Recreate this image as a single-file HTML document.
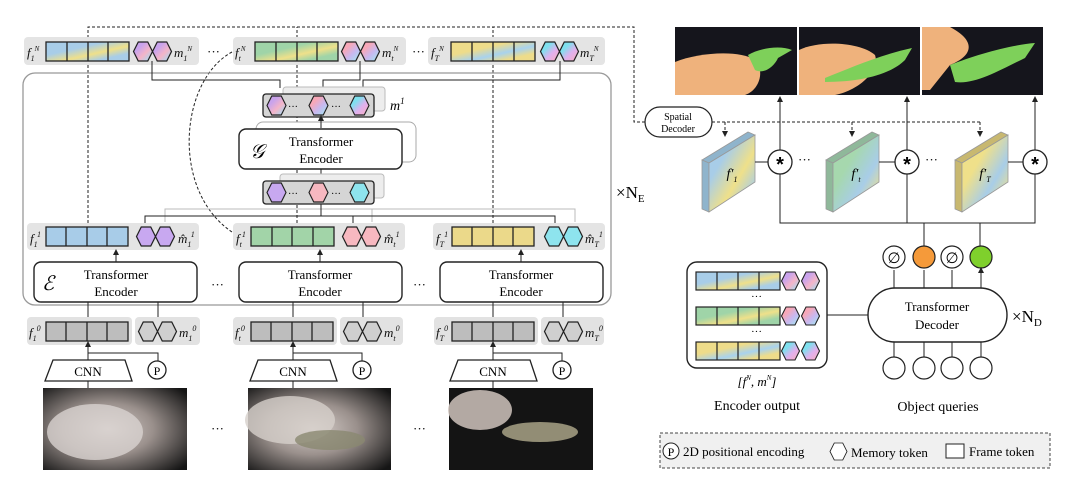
<!DOCTYPE html>
<html><head><meta charset="utf-8"><style>
body{margin:0;background:#fff}
svg{display:block;font-family:"Liberation Serif",serif}
</style></head><body>
<svg width="1080" height="478" viewBox="0 0 1080 478" xmlns="http://www.w3.org/2000/svg">
<defs>
<linearGradient id="gb" x1="0" y1="0" x2="1" y2="1"><stop offset="0.35" stop-color="#a8cde8"/><stop offset="0.6" stop-color="#efe08a"/><stop offset="0.8" stop-color="#a8cde8"/></linearGradient>
<linearGradient id="gg" x1="0" y1="0" x2="1" y2="1"><stop offset="0.35" stop-color="#9fd4a8"/><stop offset="0.6" stop-color="#efe08a"/><stop offset="0.8" stop-color="#9fd4a8"/></linearGradient>
<linearGradient id="gy" x1="0" y1="0" x2="1" y2="1"><stop offset="0.35" stop-color="#eedc8a"/><stop offset="0.6" stop-color="#a8d2ee"/><stop offset="0.8" stop-color="#eedc8a"/></linearGradient>
<linearGradient id="hp" x1="0" y1="0" x2="1" y2="1"><stop offset="0.3" stop-color="#c9a3ec"/><stop offset="0.6" stop-color="#f4b5c8"/><stop offset="0.9" stop-color="#a8d8f0"/></linearGradient>
<linearGradient id="hk" x1="0" y1="0" x2="1" y2="1"><stop offset="0.3" stop-color="#f7a8b8"/><stop offset="0.6" stop-color="#c8b8f0"/><stop offset="0.9" stop-color="#a8e0f0"/></linearGradient>
<linearGradient id="hc" x1="0" y1="0" x2="1" y2="1"><stop offset="0.3" stop-color="#7fe0ee"/><stop offset="0.6" stop-color="#e0b0ee"/><stop offset="0.9" stop-color="#f4b0c8"/></linearGradient>
<linearGradient id="pb" x1="0" y1="0" x2="1" y2="1"><stop offset="0.3" stop-color="#a8cde8"/><stop offset="0.6" stop-color="#efe08a"/><stop offset="0.85" stop-color="#a8cde8"/></linearGradient>
<linearGradient id="pg" x1="0" y1="0" x2="1" y2="1"><stop offset="0.35" stop-color="#a6d8ae"/><stop offset="0.65" stop-color="#a8cde8"/><stop offset="0.9" stop-color="#efe08a"/></linearGradient>
<linearGradient id="py" x1="0" y1="0" x2="1" y2="1"><stop offset="0.35" stop-color="#efe08a"/><stop offset="0.65" stop-color="#a8cde8"/><stop offset="0.9" stop-color="#efe08a"/></linearGradient>
<radialGradient id="ph" cx="0.45" cy="0.5" r="0.7"><stop offset="0" stop-color="#d8d0cc"/><stop offset="0.45" stop-color="#9a908c"/><stop offset="1" stop-color="#151515"/></radialGradient>
<marker id="ar" markerWidth="6" markerHeight="6" refX="3" refY="3" orient="auto"><path d="M0,0L6,3L0,6z" fill="#222"/></marker>
<symbol id="hx" viewBox="0 0 20 20" overflow="visible"><polygon points="0,10 5,0 15,0 20,10 15,20 5,20"/></symbol>
</defs>

<g fill="none" stroke="#222" stroke-dasharray="3,2" stroke-width="1">
<path d="M88,228 V27 H634 V122 H645"/>
<path d="M297,228 V27"/>
<path d="M493,228 V27"/>
<path d="M232,52 C180,80 170,190 232,232"/>
<path d="M712,122 H980"/>
</g>
<g stroke="#222" stroke-dasharray="3,2" marker-end="url(#ar)">
<path d="M725,122 V134"/><path d="M852,122 V134"/><path d="M980,122 V134"/>
</g>

<g fill="#e4e4e4">
<rect x="24" y="37" width="175" height="28" rx="4"/>
<rect x="233" y="37" width="173" height="28" rx="4"/>
<rect x="428" y="37" width="177" height="28" rx="4"/>
</g>
<g stroke="#222" stroke-width="1.3">
<rect x="46" y="42" width="83" height="19" fill="url(#gb)"/>
<rect x="255" y="42" width="83" height="19" fill="url(#gg)"/>
<rect x="451" y="42" width="84" height="19" fill="url(#gy)"/>
<path d="M67,42V61M88,42V61M108,42V61M276,42V61M297,42V61M317,42V61M472,42V61M493,42V61M514,42V61"/>
<use href="#hx" x="133" y="42" width="20" height="19" fill="url(#hp)"/><use href="#hx" x="152" y="42" width="20" height="19" fill="url(#hp)"/>
<use href="#hx" x="341" y="42" width="20" height="19" fill="url(#hk)"/><use href="#hx" x="360" y="42" width="20" height="19" fill="url(#hk)"/>
<use href="#hx" x="540" y="42" width="20" height="19" fill="url(#hc)"/><use href="#hx" x="559" y="42" width="20" height="19" fill="url(#hc)"/>
</g>
<g font-size="13" font-style="italic" fill="#111">
<text x="27" y="57">f<tspan font-size="8" dy="4">1</tspan><tspan font-size="7" dy="-10">N</tspan></text>
<text x="174" y="57">m<tspan font-size="8" dy="4">1</tspan><tspan font-size="7" dy="-10">N</tspan></text>
<text x="235" y="57">f<tspan font-size="8" dy="4">t</tspan><tspan font-size="7" dy="-10">N</tspan></text>
<text x="382" y="57">m<tspan font-size="8" dy="4">t</tspan><tspan font-size="7" dy="-10">N</tspan></text>
<text x="431" y="57">f<tspan font-size="8" dy="4">T</tspan><tspan font-size="7" dy="-10">N</tspan></text>
<text x="580" y="57">m<tspan font-size="8" dy="4">T</tspan><tspan font-size="7" dy="-10">N</tspan></text>
</g>
<text x="207" y="56" font-size="13">···</text><text x="412" y="56" font-size="13">···</text>

<rect x="23" y="73" width="588" height="232" rx="12" fill="none" stroke="#999" stroke-width="1.3"/>
<text x="616" y="198" font-size="17" font-family="Liberation Serif">×N<tspan font-size="11" dy="4">E</tspan></text>

<g fill="none" stroke="#222" stroke-width="1">
<path d="M152,61 V80 H280 V88"/>
<path d="M360,61 V80 H323 V88"/>
<path d="M560,61 V80 H363 V88"/>
</g>
<rect x="283" y="87" width="102" height="24" rx="3" fill="#ededed" stroke="#bbb"/>
<rect x="263" y="94" width="111" height="23" rx="3" fill="#d5d5d5" stroke="#222" stroke-width="1.3"/>
<g stroke="#222" stroke-width="1.2">
<use href="#hx" x="267" y="96" width="19" height="19" fill="url(#hp)"/>
<use href="#hx" x="309" y="96" width="19" height="19" fill="url(#hk)"/>
<use href="#hx" x="350" y="96" width="19" height="19" fill="url(#hc)"/>
</g>
<text x="288" y="110" font-size="10">···</text><text x="331" y="110" font-size="10">···</text>
<text x="390" y="110" font-size="14" font-style="italic">m<tspan font-size="9" dy="-6">1</tspan></text>
<rect x="256" y="122" width="160" height="40" rx="7" fill="#fff" stroke="#aaa"/>
<line x1="321" y1="128" x2="321" y2="118" stroke="#222" marker-end="url(#ar)"/>
<rect x="239" y="129" width="163" height="40" rx="7" fill="#fff" stroke="#222" stroke-width="1.4"/>
<text x="250" y="158" font-size="20" font-style="italic">𝒢</text>
<text x="321" y="146" font-size="13" text-anchor="middle">Transformer</text>
<text x="321" y="163" font-size="13" text-anchor="middle">Encoder</text>
<line x1="321" y1="169" x2="321" y2="181" stroke="#222"/>
<rect x="280" y="174" width="104" height="24" rx="3" fill="#ededed" stroke="#bbb"/>
<rect x="263" y="181" width="111" height="23" rx="3" fill="#d5d5d5" stroke="#222" stroke-width="1.3"/>
<g stroke="#222" stroke-width="1.2">
<use href="#hx" x="267" y="183" width="19" height="19" fill="#c8a8f0"/>
<use href="#hx" x="309" y="183" width="19" height="19" fill="#f7b8c0"/>
<use href="#hx" x="350" y="183" width="19" height="19" fill="#8ee4ee"/>
</g>
<text x="288" y="197" font-size="10">···</text><text x="331" y="197" font-size="10">···</text>
<g fill="none" stroke="#bbb"><path d="M165,222 V209 H575 V222"/><path d="M372,209 V222"/></g>
<g fill="none" stroke="#222"><path d="M145,227 V216 H555 V227"/><path d="M353,216 V227"/><path d="M321,204 V216"/></g>

<g fill="#e4e4e4">
<rect x="27" y="223" width="172" height="27" rx="4"/>
<rect x="233" y="223" width="172" height="27" rx="4"/>
<rect x="433" y="223" width="172" height="27" rx="4"/>
</g>
<g stroke="#222" stroke-width="1.3">
<rect x="46" y="227" width="82" height="19" fill="#a8cce8"/>
<rect x="251" y="227" width="83" height="19" fill="#a2d4a8"/>
<rect x="452" y="227" width="82" height="19" fill="#ebd98a"/>
<path d="M66,227V246M87,227V246M107,227V246M272,227V246M292,227V246M313,227V246M472,227V246M493,227V246M513,227V246"/>
<use href="#hx" x="136" y="227" width="20" height="19" fill="#c8a8f0"/><use href="#hx" x="155" y="227" width="20" height="19" fill="#c8a8f0"/>
<use href="#hx" x="342" y="227" width="20" height="19" fill="#f7b8c0"/><use href="#hx" x="361" y="227" width="20" height="19" fill="#f7b8c0"/>
<use href="#hx" x="544" y="227" width="20" height="19" fill="#8ee4ee"/><use href="#hx" x="563" y="227" width="20" height="19" fill="#8ee4ee"/>
</g>
<g font-size="13" font-style="italic" fill="#111">
<text x="30" y="243">f<tspan font-size="8" dy="4">1</tspan><tspan font-size="8" dy="-10">1</tspan></text>
<text x="178" y="243">m̂<tspan font-size="8" dy="4">1</tspan><tspan font-size="8" dy="-10">1</tspan></text>
<text x="236" y="243">f<tspan font-size="8" dy="4">t</tspan><tspan font-size="8" dy="-10">1</tspan></text>
<text x="384" y="243">m̂<tspan font-size="8" dy="4">t</tspan><tspan font-size="8" dy="-10">1</tspan></text>
<text x="436" y="243">f<tspan font-size="8" dy="4">T</tspan><tspan font-size="8" dy="-10">1</tspan></text>
<text x="585" y="243">m̂<tspan font-size="8" dy="4">T</tspan><tspan font-size="8" dy="-10">1</tspan></text>
</g>
<g stroke="#222" marker-end="url(#ar)"><path d="M116,262V252"/><path d="M320,262V252"/><path d="M521,262V252"/></g>
<g fill="#fff" stroke="#222" stroke-width="1.4">
<rect x="34" y="262" width="163" height="40" rx="7"/>
<rect x="239" y="262" width="163" height="40" rx="7"/>
<rect x="440" y="262" width="163" height="40" rx="7"/>
</g>
<text x="42" y="290" font-size="20" font-style="italic">ℰ</text>
<g font-size="13" text-anchor="middle">
<text x="116" y="279">Transformer</text><text x="116" y="296">Encoder</text>
<text x="320" y="279">Transformer</text><text x="320" y="296">Encoder</text>
<text x="521" y="279">Transformer</text><text x="521" y="296">Encoder</text>
</g>
<text x="211" y="289" font-size="13">···</text><text x="413" y="289" font-size="13">···</text>
<g stroke="#222"><path d="M88,302V317M158,302V317M293,302V317M363,302V317M493,302V317M563,302V317"/></g>

<g fill="#e2e2e2">
<rect x="27" y="317" width="105" height="28" rx="4"/><rect x="135" y="317" width="65" height="28" rx="4"/>
<rect x="233" y="317" width="104" height="28" rx="4"/><rect x="340" y="317" width="63" height="28" rx="4"/>
<rect x="434" y="317" width="104" height="28" rx="4"/><rect x="541" y="317" width="63" height="28" rx="4"/>
</g>
<g stroke="#222" stroke-width="1.3">
<rect x="46" y="322" width="82" height="19" fill="#bdbdbd"/>
<rect x="251" y="322" width="82" height="19" fill="#bdbdbd"/>
<rect x="452" y="322" width="82" height="19" fill="#bdbdbd"/>
<path d="M66,322V341M87,322V341M107,322V341M271,322V341M292,322V341M312,322V341M472,322V341M493,322V341M513,322V341"/>
<use href="#hx" x="138" y="322" width="20" height="19" fill="#cfcfcf"/><use href="#hx" x="157" y="322" width="20" height="19" fill="#cfcfcf"/>
<use href="#hx" x="343" y="322" width="20" height="19" fill="#cfcfcf"/><use href="#hx" x="362" y="322" width="20" height="19" fill="#cfcfcf"/>
<use href="#hx" x="544" y="322" width="20" height="19" fill="#cfcfcf"/><use href="#hx" x="563" y="322" width="20" height="19" fill="#cfcfcf"/>
</g>
<g font-size="13" font-style="italic" fill="#111">
<text x="29" y="337">f<tspan font-size="8" dy="4">1</tspan><tspan font-size="8" dy="-10">0</tspan></text>
<text x="179" y="337">m<tspan font-size="8" dy="4">1</tspan><tspan font-size="8" dy="-10">0</tspan></text>
<text x="235" y="337">f<tspan font-size="8" dy="4">t</tspan><tspan font-size="8" dy="-10">0</tspan></text>
<text x="384" y="337">m<tspan font-size="8" dy="4">t</tspan><tspan font-size="8" dy="-10">0</tspan></text>
<text x="436" y="337">f<tspan font-size="8" dy="4">T</tspan><tspan font-size="8" dy="-10">0</tspan></text>
<text x="585" y="337">m<tspan font-size="8" dy="4">T</tspan><tspan font-size="8" dy="-10">0</tspan></text>
</g>
<g fill="none" stroke="#222">
<path d="M88,360V353H158V361M293,360V353H362V361M493,360V353H562V361"/>
</g>
<g stroke="#222" marker-end="url(#ar)"><path d="M88,356V344"/><path d="M293,356V344"/><path d="M493,356V344"/></g>
<g fill="#fff" stroke="#222" stroke-width="1.3">
<polygon points="53,360 125,360 132,381 45,381"/><polygon points="258,360 330,360 337,381 250,381"/><polygon points="458,360 530,360 537,381 450,381"/>
<circle cx="157" cy="370" r="9"/><circle cx="362" cy="370" r="9"/><circle cx="562" cy="370" r="9"/>
</g>
<g font-size="13" text-anchor="middle">
<text x="88" y="376">CNN</text><text x="293" y="376">CNN</text><text x="493" y="376">CNN</text>
<text x="157" y="375" font-size="12">P</text><text x="362" y="375" font-size="12">P</text><text x="562" y="375" font-size="12">P</text>
</g>
<g stroke="#222"><path d="M88,381V388M293,381V388M493,381V388"/></g>
<rect x="43" y="388" width="144" height="82" fill="url(#ph)"/>
<ellipse cx="95" cy="432" rx="48" ry="28" fill="#d8d2cf" opacity="0.8"/>
<rect x="248" y="388" width="143" height="82" fill="url(#ph)"/>
<ellipse cx="290" cy="420" rx="45" ry="24" fill="#d6cfcb" opacity="0.8"/>
<ellipse cx="330" cy="440" rx="35" ry="10" fill="#8a8870" opacity="0.8"/>
<rect x="449" y="388" width="144" height="82" fill="#141414"/>
<ellipse cx="480" cy="410" rx="32" ry="20" fill="#cfc3bc" opacity="0.85"/>
<ellipse cx="540" cy="432" rx="38" ry="10" fill="#a09a80" opacity="0.9"/>
<text x="211" y="433" font-size="13">···</text><text x="413" y="433" font-size="13">···</text>

<rect x="675" y="27" width="122" height="68" fill="#15151c"/>
<path d="M675,62 C700,52 740,50 755,60 C765,70 760,90 745,95 H675 Z" fill="#efb27c"/>
<path d="M748,55 C760,48 780,45 792,50 L778,58 C775,65 765,75 755,70 Z" fill="#7ed05a"/>
<rect x="799" y="27" width="121" height="68" fill="#15151c"/>
<path d="M799,50 C820,40 860,42 875,55 C880,70 860,90 835,95 H799 Z" fill="#efb27c"/>
<path d="M825,78 C850,68 880,55 912,48 L905,60 C890,75 860,82 825,82 Z" fill="#7ed05a"/>
<rect x="922" y="27" width="121" height="68" fill="#15151c"/>
<path d="M922,27 H950 C975,40 975,55 950,65 L930,90 H922 Z" fill="#efb27c"/>
<path d="M950,65 C975,55 1010,45 1035,43 L1025,58 C1000,70 975,85 955,82 Z" fill="#7ed05a"/>
<g stroke="#222" marker-end="url(#ar)"><path d="M780,150V99"/><path d="M907,150V99"/><path d="M1035,150V99"/></g>

<rect x="645" y="107" width="67" height="30" rx="15" fill="#fff" stroke="#222" stroke-width="1.2"/>
<text x="678" y="120" font-size="10" text-anchor="middle">Spatial</text>
<text x="678" y="132" font-size="10" text-anchor="middle">Decoder</text>

<g stroke="#999" stroke-width="0.8">
<polygon points="702,160 748,132 755,135 709,163" fill="#8fb4cc"/><polygon points="702,160 709,163 709,212 702,209" fill="#8fb4cc"/><polygon points="709,163 755,135 755,182 709,212" fill="url(#pb)"/>
<polygon points="826,160 872,132 879,135 833,163" fill="#8fb89a"/><polygon points="826,160 833,163 833,212 826,209" fill="#8fb89a"/><polygon points="833,163 879,135 879,182 833,212" fill="url(#pg)"/>
<polygon points="955,160 1001,132 1008,135 962,163" fill="#c8b870"/><polygon points="955,160 962,163 962,212 955,209" fill="#c8b870"/><polygon points="962,163 1008,135 1008,182 962,212" fill="url(#py)"/>
</g>
<g font-size="14" font-style="italic" text-anchor="middle">
<text x="732" y="178">f′<tspan font-size="8" dy="4">1</tspan></text>
<text x="856" y="178">f′<tspan font-size="8" dy="4">t</tspan></text>
<text x="985" y="178">f′<tspan font-size="8" dy="4">T</tspan></text>
</g>
<g stroke="#222" fill="none" stroke-width="1">
<path d="M755,162H768M879,162H895M1008,162H1023"/>
<path d="M780,174V223H1035V174M907,174V223"/>
<path d="M924,223V246M980,223V246"/>
</g>
<g fill="#fff" stroke="#222" stroke-width="1.3">
<circle cx="780" cy="162" r="12"/><circle cx="907" cy="162" r="12"/><circle cx="1035" cy="162" r="12"/>
</g>
<g font-size="20" text-anchor="middle" font-weight="bold" font-family="Liberation Sans"><text x="780" y="171">*</text><text x="907" y="171">*</text><text x="1035" y="171">*</text></g>
<text x="798" y="164" font-size="13">···</text><text x="925" y="164" font-size="13">···</text>

<g stroke="#222" stroke-width="1.2">
<circle cx="894" cy="257" r="11" fill="#fff"/><circle cx="924" cy="257" r="11" fill="#f59a3a"/>
<circle cx="952" cy="257" r="11" fill="#fff"/><circle cx="981" cy="257" r="11" fill="#7fd02c"/>
</g>
<text x="894" y="263" font-size="15" text-anchor="middle">∅</text><text x="952" y="263" font-size="15" text-anchor="middle">∅</text>
<g stroke="#222" marker-end="url(#ar)"><path d="M894,288V270M924,288V270M952,288V270M981,288V270"/></g>
<rect x="868" y="288" width="139" height="54" rx="27" fill="#fff" stroke="#222" stroke-width="1.4"/>
<text x="937" y="311" font-size="13" text-anchor="middle">Transformer</text>
<text x="937" y="329" font-size="13" text-anchor="middle">Decoder</text>
<text x="1012" y="322" font-size="17">×N<tspan font-size="11" dy="4">D</tspan></text>
<g stroke="#222"><path d="M894,342V357M924,342V357M952,342V357M981,342V357M827,315H868"/></g>
<g fill="#fff" stroke="#222" stroke-width="1.2">
<circle cx="894" cy="368" r="11"/><circle cx="924" cy="368" r="11"/><circle cx="952" cy="368" r="11"/><circle cx="981" cy="368" r="11"/>
</g>
<rect x="687" y="262" width="140" height="106" rx="10" fill="#fff" stroke="#222" stroke-width="1.4"/>
<g stroke="#222" stroke-width="1.2">
<rect x="696" y="272" width="84" height="18" fill="url(#gb)"/>
<rect x="696" y="307" width="84" height="18" fill="url(#gg)"/>
<rect x="696" y="342" width="84" height="18" fill="url(#gy)"/>
<path d="M717,272V290M738,272V290M759,272V290M717,307V325M738,307V325M759,307V325M717,342V360M738,342V360M759,342V360"/>
<use href="#hx" x="780" y="272" width="21" height="18" fill="url(#hp)"/><use href="#hx" x="800" y="272" width="21" height="18" fill="url(#hp)"/>
<use href="#hx" x="780" y="307" width="21" height="18" fill="url(#hk)"/><use href="#hx" x="800" y="307" width="21" height="18" fill="url(#hk)"/>
<use href="#hx" x="780" y="342" width="21" height="18" fill="url(#hc)"/><use href="#hx" x="800" y="342" width="21" height="18" fill="url(#hc)"/>
</g>
<text x="751" y="300" font-size="11">···</text><text x="751" y="335" font-size="11">···</text>
<text x="757" y="386" font-size="13" text-anchor="middle" font-style="italic">[f<tspan font-size="7" dy="-6">N</tspan><tspan dy="6">, m</tspan><tspan font-size="7" dy="-6">N</tspan><tspan dy="6">]</tspan></text>
<text x="757" y="410" font-size="14" text-anchor="middle">Encoder output</text>
<text x="938" y="411" font-size="14" text-anchor="middle">Object queries</text>

<rect x="660" y="433" width="390" height="35" fill="#f0f0f0" stroke="#444" stroke-dasharray="3,2"/>
<circle cx="671" cy="451" r="8" fill="#fff" stroke="#222"/><text x="671" y="456" font-size="12" text-anchor="middle">P</text>
<text x="683" y="456" font-size="13">2D positional encoding</text>
<use href="#hx" x="829" y="443" width="19" height="17" fill="#fff" stroke="#222"/>
<text x="851" y="457" font-size="13">Memory token</text>
<rect x="946" y="444" width="18" height="14" fill="#fff" stroke="#222"/>
<text x="969" y="456" font-size="13">Frame token</text>
</svg>
</body></html>
